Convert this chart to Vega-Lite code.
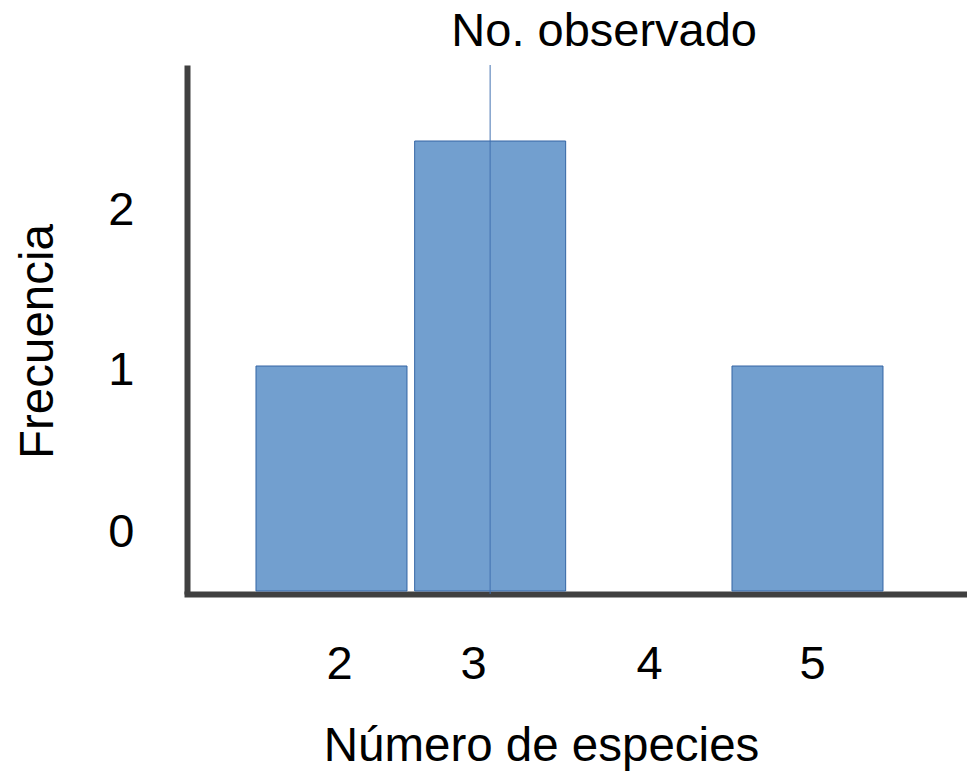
{
  "$schema": "https://vega.github.io/schema/vega-lite/v6.json",
  "autosize": {"type": "none"},
  "padding": {"left": 187, "top": 65, "right": 0, "bottom": 177},
  "width": 780,
  "height": 529,
  "background": "white",
  "config": {
    "view": {"stroke": null},
    "font": "Liberation Sans",
    "axis": {"zindex": 1}
  },
  "data": {
    "values": [
      {"especies": 2, "frecuencia": 1},
      {"especies": 3, "frecuencia": 2},
      {"especies": 4, "frecuencia": 0},
      {"especies": 5, "frecuencia": 1}
    ]
  },
  "layer": [
    {
      "transform": [{"filter": "datum.frecuencia > 0"}],
      "mark": {"type": "bar", "size": 151, "fill": "#729fcf", "stroke": "#3465a4", "strokeWidth": 1},
      "encoding": {
        "x": {
          "field": "especies",
          "type": "quantitative",
          "scale": {"domain": [1.0893, 6.0053], "nice": false, "zero": false, "padding": 0},
          "axis": {
            "title": "Número de especies",
            "values": [2.0473, 2.8918, 4.0011, 5.0284],
            "labelExpr": "format(round(datum.value),'d')",
            "ticks": false,
            "tickSize": 0,
            "grid": false,
            "domainColor": "#404040",
            "domainWidth": 6,
            "domainCap": "square",
            "labelFont": "Liberation Sans",
            "labelFontSize": 47,
            "labelColor": "black",
            "labelBaseline": "alphabetic",
            "labelPadding": 84,
            "labelFlush": false,
            "labelOverlap": false,
            "titleFont": "Liberation Sans",
            "titleFontSize": 47.5,
            "titleFontWeight": "normal",
            "titleColor": "black",
            "titleX": 354,
            "titleY": 166,
            "titleAlign": "center",
            "titleAnchor": null,
            "titleBaseline": "alphabetic"
          }
        },
        "y": {
          "field": "frecuencia",
          "type": "quantitative",
          "scale": {"domain": [-0.01333, 2.3378], "nice": false, "zero": false, "padding": 0},
          "axis": {
            "title": "Frecuencia",
            "values": [0.2, 0.9156, 1.6267],
            "labelExpr": "datum.value < 0.5 ? '0' : datum.value < 1.2 ? '1' : '2'",
            "ticks": false,
            "tickSize": 0,
            "grid": false,
            "domainColor": "#404040",
            "domainWidth": 6,
            "labelFont": "Liberation Sans",
            "labelFontSize": 47,
            "labelColor": "black",
            "labelBaseline": "alphabetic",
            "labelPadding": 53,
            "labelFlush": false,
            "labelOverlap": false,
            "titleFont": "Liberation Sans",
            "titleFontSize": 47.5,
            "titleFontWeight": "normal",
            "titleColor": "black",
            "titleAngle": -90,
            "titleX": -135,
            "titleY": 276,
            "titleAlign": "center",
            "titleAnchor": null,
            "titleBaseline": "alphabetic"
          }
        },
        "y2": {"datum": 0}
      }
    },
    {
      "data": {"values": [{"observado": 3, "titulo": "No. observado"}]},
      "layer": [
        {
          "mark": {"type": "rule", "stroke": "#3f6fb0", "strokeWidth": 1.3, "opacity": 0.75},
          "encoding": {
            "x": {"field": "observado", "type": "quantitative"}
          }
        },
        {
          "mark": {"type": "text", "font": "Liberation Sans", "fontSize": 47, "color": "black", "align": "center", "baseline": "alphabetic", "dx": 114, "dy": -19, "clip": false},
          "encoding": {
            "x": {"field": "observado", "type": "quantitative"},
            "y": {"datum": 2.3378, "type": "quantitative"},
            "text": {"field": "titulo"}
          }
        }
      ]
    }
  ]
}
